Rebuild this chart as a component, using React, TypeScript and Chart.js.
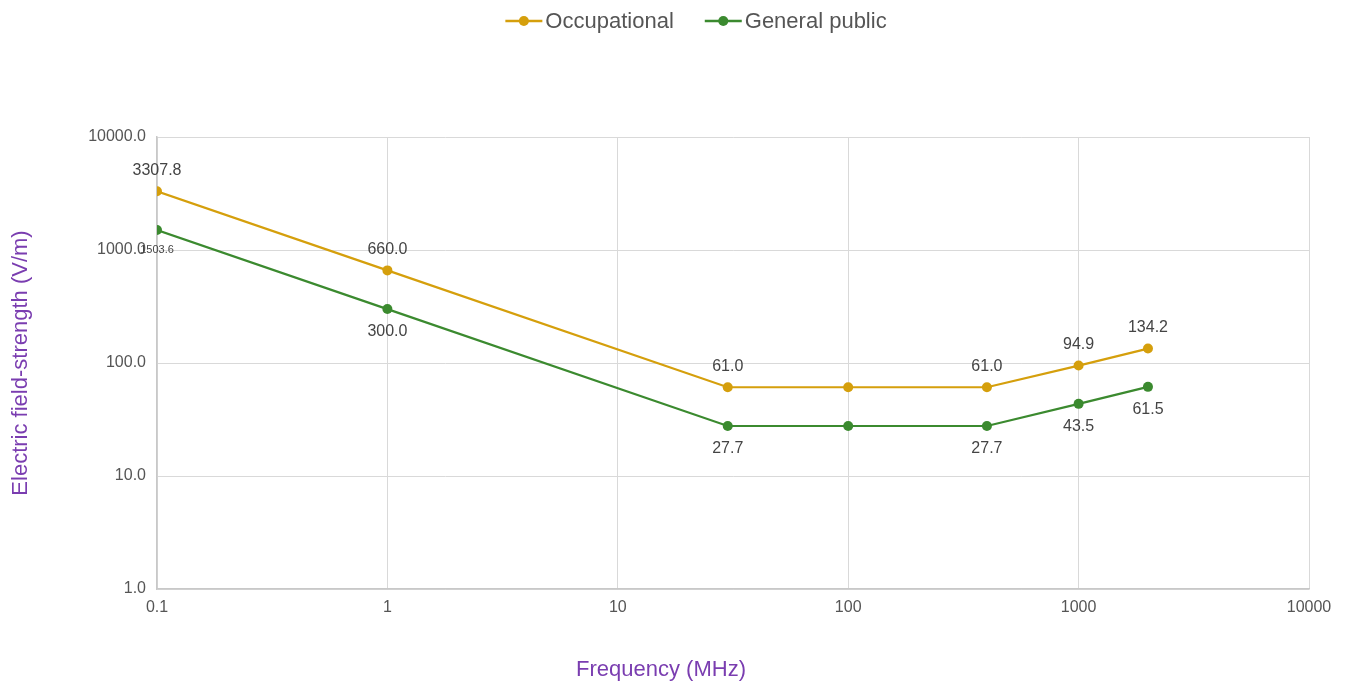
import React, { useEffect, useRef } from "react";
import { Chart, registerables } from "chart.js";

Chart.register(...registerables);

const frequencies = [0.1, 1, 30, 100, 400, 1000, 2000];
const occupational = [3307.8, 660.0, 61.0, 61.0, 61.0, 94.9, 134.2];
const generalPublic = [1503.6, 300.0, 27.7, 27.7, 27.7, 43.5, 61.5];
const xTickValues = [0.1, 1, 10, 100, 1000, 10000];
const xTickLabels = ["0.1", "1", "10", "100", "1000", "10000"];
const yTickValues = [1, 10, 100, 1000, 10000];
const yTickLabels = ["1.0", "10.0", "100.0", "1000.0", "10000.0"];
const seriesNames = ["Occupational", "General public"];

const FONT = "'Liberation Sans', Arial, sans-serif";
const GOLD = "#D59F0C";
const GREEN = "#3B8A2F";
const PURPLE = "#7A3DB0";
const TEXT = "#555555";
const COLORS = [GOLD, GREEN];

// label placement per point: 'above' | 'below' | 'none' | 'small'
const occPlacement = ["above", "above", "above", "none", "above", "above", "above"];
const genPlacement = ["small", "below", "below", "none", "below", "below", "below"];

const labelPlugin = {
  id: "pointLabels",
  afterDatasetsDraw(chart: any) {
    const ctx = chart.ctx;
    const placements = [occPlacement, genPlacement];
    chart.data.datasets.forEach((ds: any, di: number) => {
      const meta = chart.getDatasetMeta(di);
      meta.data.forEach((pt: any, i: number) => {
        const p = placements[di][i];
        if (p === "none") return;
        const v = (ds.data[i] as any).y as number;
        const txt = v.toFixed(1);
        ctx.save();
        ctx.fillStyle = "#444444";
        ctx.textAlign = "center";
        ctx.textBaseline = "middle";
        if (p === "small") {
          ctx.font = `11px ${FONT}`;
          ctx.fillText(txt, pt.x, pt.y + 20);
        } else {
          ctx.font = `16px ${FONT}`;
          ctx.fillText(txt, pt.x, p === "above" ? pt.y - 21 : pt.y + 23);
        }
        ctx.restore();
      });
    });
  },
};

const decorPlugin = {
  id: "decor",
  afterDraw(chart: any) {
    const ctx = chart.ctx;
    ctx.save();
    // x axis title
    ctx.fillStyle = PURPLE;
    ctx.font = `22px ${FONT}`;
    ctx.textAlign = "center";
    ctx.textBaseline = "middle";
    ctx.fillText("Frequency (MHz)", 661, 670);
    // legend
    ctx.font = `22px ${FONT}`;
    ctx.textAlign = "left";
    const iconW = 37;
    const gapText = 3;
    const gapItem = 31;
    const widths = seriesNames.map((n) => ctx.measureText(n).width);
    const total = widths.reduce((a, w) => a + iconW + gapText + w, 0) + gapItem * (seriesNames.length - 1);
    let x = 696 - total / 2;
    const y = 21;
    seriesNames.forEach((name, i) => {
      ctx.strokeStyle = COLORS[i];
      ctx.lineWidth = 2.5;
      ctx.beginPath();
      ctx.moveTo(x, y);
      ctx.lineTo(x + iconW, y);
      ctx.stroke();
      ctx.fillStyle = COLORS[i];
      ctx.beginPath();
      ctx.arc(x + iconW / 2, y, 5, 0, Math.PI * 2);
      ctx.fill();
      ctx.fillStyle = TEXT;
      ctx.fillText(name, x + iconW + gapText, y + 1);
      x += iconW + gapText + widths[i] + gapItem;
    });
    ctx.restore();
  },
};

export default function App() {
  const ref = useRef<HTMLCanvasElement>(null);
  useEffect(() => {
    const chart = new Chart(ref.current!, {
      type: "line",
      data: {
        datasets: [
          {
            label: seriesNames[0],
            data: frequencies.map((f, i) => ({ x: f, y: occupational[i] })),
            borderColor: GOLD,
            backgroundColor: GOLD,
            borderWidth: 2.2,
            pointRadius: 5,
            pointBorderWidth: 0,
            pointHoverRadius: 5,
          },
          {
            label: seriesNames[1],
            data: frequencies.map((f, i) => ({ x: f, y: generalPublic[i] })),
            borderColor: GREEN,
            backgroundColor: GREEN,
            borderWidth: 2.2,
            pointRadius: 5,
            pointBorderWidth: 0,
            pointHoverRadius: 5,
          },
        ],
      },
      plugins: [labelPlugin, decorPlugin],
      options: {
        animation: false,
        responsive: false,
        maintainAspectRatio: false,
        layout: { padding: { top: 137, right: 43, left: 0, bottom: 0 } },
        plugins: {
          tooltip: { enabled: false },
          legend: { display: false },
        },
        scales: {
          x: {
            type: "logarithmic",
            min: 0.1,
            max: 10000,
            afterBuildTicks(scale: any) {
              scale.ticks = xTickValues.map((v) => ({ value: v }));
            },
            afterFit(scale: any) {
              scale.height = 95;
            },
            ticks: {
              autoSkip: false,
              maxRotation: 0,
              padding: 9,
              color: TEXT,
              font: { size: 16, family: FONT },
              callback(value: any) {
                const idx = xTickValues.findIndex((v) => Math.abs(v - value) < 1e-9 * Math.max(1, v));
                return idx >= 0 ? xTickLabels[idx] : "";
              },
            },
            grid: { color: "#D9D9D9", lineWidth: 1, drawTicks: false },
            border: { color: "#C8C8C8", width: 1.5 },
          },
          y: {
            type: "logarithmic",
            min: 1,
            max: 10000,
            afterBuildTicks(scale: any) {
              scale.ticks = yTickValues.map((v) => ({ value: v }));
            },
            afterFit(scale: any) {
              scale.width = 157;
            },
            ticks: {
              autoSkip: false,
              padding: 11,
              color: TEXT,
              font: { size: 16, family: FONT },
              callback(value: any) {
                const idx = yTickValues.findIndex((v) => Math.abs(v - value) < 1e-9 * v);
                return idx >= 0 ? yTickLabels[idx] : "";
              },
            },
            title: {
              display: true,
              text: "Electric field-strength (V/m)",
              color: PURPLE,
              font: { size: 22, family: FONT },
              padding: { top: 8, bottom: 0 },
            },
            grid: { color: "#D9D9D9", lineWidth: 1, drawTicks: false },
            border: { color: "#C8C8C8", width: 1.5 },
          },
        },
      },
    } as any);
    return () => chart.destroy();
  }, []);
  return (
    <div style={{ position: "fixed", left: 0, top: 0, width: 1352, height: 684, background: "#fff" }}>
      <canvas ref={ref} width={1352} height={684} style={{ width: 1352, height: 684 }} />
    </div>
  );
}
